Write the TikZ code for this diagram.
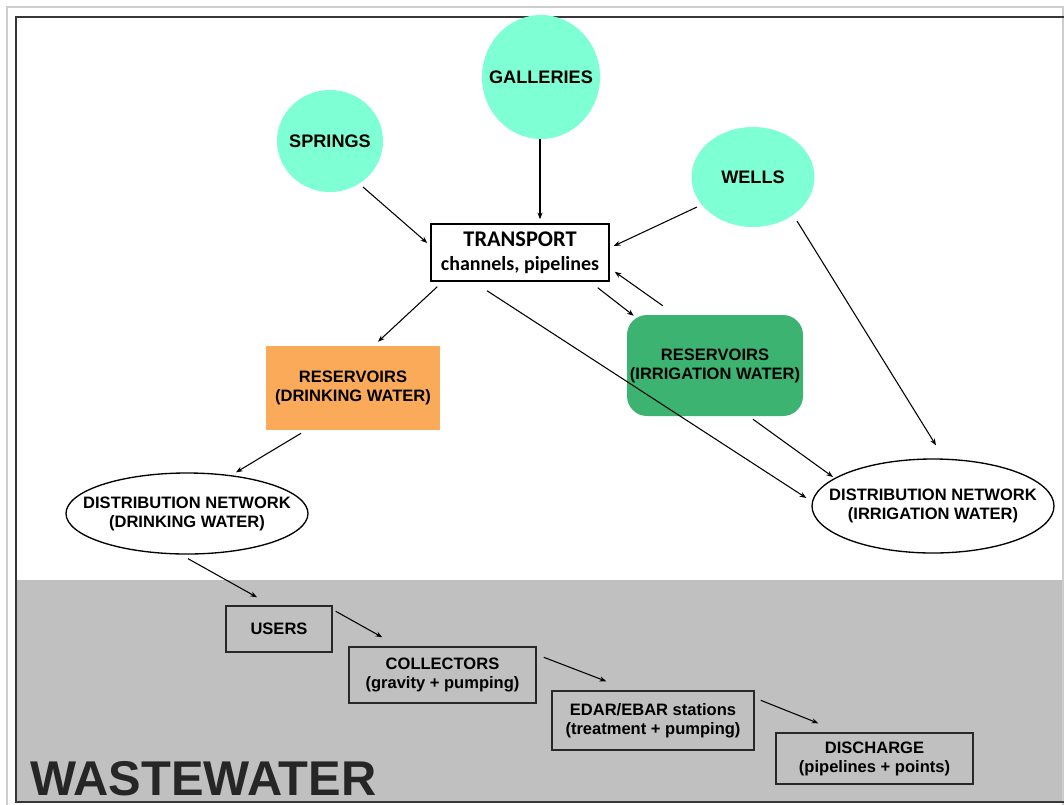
\documentclass[tikz,border=0pt]{standalone}
\usepackage{fontspec}
\usetikzlibrary{shapes.geometric,arrows.meta}
\newfontfamily\arialfont{Liberation Sans}
\newfontfamily\calibfont{Carlito}
\definecolor{mint}{RGB}{127,255,212}
\definecolor{resorange}{RGB}{251,170,90}
\definecolor{resgreen}{RGB}{60,179,113}
\definecolor{wastegray}{RGB}{192,192,192}
\definecolor{framelight}{RGB}{205,205,205}
\definecolor{framedark}{RGB}{55,55,55}
\definecolor{boxline}{RGB}{40,40,40}
\definecolor{wastetext}{RGB}{38,38,38}
\def\pxu{0.75pt}

\begin{document}
\begin{tikzpicture}[x=0.75pt,y=-0.75pt,
  lbl/.style={font=\arialfont\bfseries\fontsize{12.4pt}{14.25pt}\selectfont,
    align=center, inner sep=0pt},
  srclbl/.style={font=\arialfont\bfseries\fontsize{13.6pt}{16pt}\selectfont,
    inner sep=0pt},
  source/.style={ellipse, fill=mint, inner sep=0pt},
  netell/.style={ellipse, draw=black, line width=1pt, fill=white, inner sep=0pt},
  wastebox/.style={rectangle, draw=boxline, line width=1.1pt, inner sep=0pt,
    align=center, font=\arialfont\bfseries\fontsize{12.4pt}{14.25pt}\selectfont},
  flow/.style={-{Stealth[length=5pt,width=3.8pt]}, line width=0.8pt, black}]

% page and frame
\useasboundingbox (0,0) rectangle (1064,804);
\begin{scope}
\clip (0,0) rectangle (1064,804);
\fill[white] (0,0) rectangle (1064,804);
\fill[wastegray] (16,580) rectangle (1064,802);
\draw[framelight, line width=1.5pt] (7,820) -- (7,7) -- (1063,7) -- (1063,820);
\draw[framedark, line width=1.5pt] (1080,16.5) -- (16,16.5) -- (16,802) -- (1080,802);
\end{scope}

% water sources
\node[source, minimum width=106*\pxu, minimum height=102*\pxu] (springs) at (330,141) {};
\node[srclbl] at (springs) {SPRINGS};
\node[source, minimum width=118*\pxu, minimum height=124*\pxu] (galleries) at (541,77) {};
\node[srclbl] at (galleries) {GALLERIES};
\node[source, minimum width=123*\pxu, minimum height=100*\pxu] (wells) at (753,177) {};
\node[srclbl] at (wells) {WELLS};

% transport
\node[rectangle, draw=black, line width=1.1pt, fill=white, inner sep=0pt,
  minimum width=178*\pxu, minimum height=57*\pxu, align=center,
  font=\calibfont\bfseries\fontsize{15pt}{18.4pt}\selectfont]
  (transport) at (520,252.5) {{\fontsize{16.8pt}{18.4pt}\selectfont TRANSPORT}\\channels, pipelines};

% reservoirs
\node[rectangle, fill=resorange, minimum width=174*\pxu, minimum height=84*\pxu,
  lbl] (resdrink) at (353,388) {RESERVOIRS\\(DRINKING WATER)};
\node[rectangle, fill=resgreen, rounded corners=15pt, minimum width=176*\pxu,
  minimum height=101*\pxu, lbl] (resirr) at (715,365.5) {RESERVOIRS\\(IRRIGATION WATER)};

% distribution networks
\node[netell, minimum width=242*\pxu, minimum height=81*\pxu] (distdrink) at (187,513.5) {};
\node[lbl] at (distdrink) {DISTRIBUTION NETWORK\\(DRINKING WATER)};
\node[netell, minimum width=242*\pxu, minimum height=94*\pxu] (distirr) at (933,506) {};
\node[lbl] at (distirr) {DISTRIBUTION NETWORK\\(IRRIGATION WATER)};

% wastewater chain
\node[wastebox, minimum width=106*\pxu, minimum height=46*\pxu] (users) at (279,629) {USERS};
\node[wastebox, minimum width=187*\pxu, minimum height=56*\pxu] (collectors) at (442.5,675)
  {COLLECTORS\\(gravity + pumping)};
\node[wastebox, minimum width=202*\pxu, minimum height=59*\pxu] (edar) at (653,720.5)
  {EDAR/EBAR stations\\(treatment + pumping)};
\node[wastebox, minimum width=197*\pxu, minimum height=51*\pxu] (discharge) at (874.5,758.5)
  {DISCHARGE\\(pipelines + points)};

\node[anchor=base west, inner sep=0pt, text=wastetext,
  font=\arialfont\bfseries\fontsize{36.6pt}{40pt}\selectfont] (wastetitle) at (30,795) {WASTEWATER};

% flows
\draw[flow] ([shift={(33,46)}]springs.center) -- ([shift={(-3,-9.5)}]transport.west);
\draw[flow] ([shift={(-1,0)}]galleries.south) -- ([shift={(20,-4)}]transport.north);
\draw[flow] ([shift={(-56,30)}]wells.center) -- ([shift={(4,-6.5)}]transport.east);
\draw[flow] ([shift={(7,5)}]transport.south west) -- ([shift={(25,-4)}]resdrink.north);
\draw[flow] ([shift={(-33,9)}]transport.south) -- ([shift={(-5,-8)}]distirr.west);
\draw[flow] ([shift={(-12,6)}]transport.south east) -- ([shift={(7,1)}]resirr.north west);
\draw[flow] ([shift={(36,-9)}]resirr.north west) -- ([shift={(5,-10)}]transport.south east);
\draw[flow] ([shift={(44,44)}]wells.center) -- ([shift={(3,-13)}]distirr.north);
\draw[flow] ([shift={(38,3)}]resirr.south) -- ([shift={(-100,-29)}]distirr.center);
\draw[flow] ([shift={(-52,3)}]resdrink.south) -- ([shift={(49,0)}]distdrink.north);
\draw[flow] ([shift={(1,4)}]distdrink.south) -- ([shift={(-22,-8)}]users.north);
\draw[flow] ([shift={(3,6)}]users.north east) -- ([shift={(34,-9)}]collectors.north west);
\draw[flow] ([shift={(7,11)}]collectors.north east) -- ([shift={(55,-9)}]edar.north west);
\draw[flow] ([shift={(6,10)}]edar.north east) -- ([shift={(43,-9)}]discharge.north west);
\end{tikzpicture}
\end{document}
